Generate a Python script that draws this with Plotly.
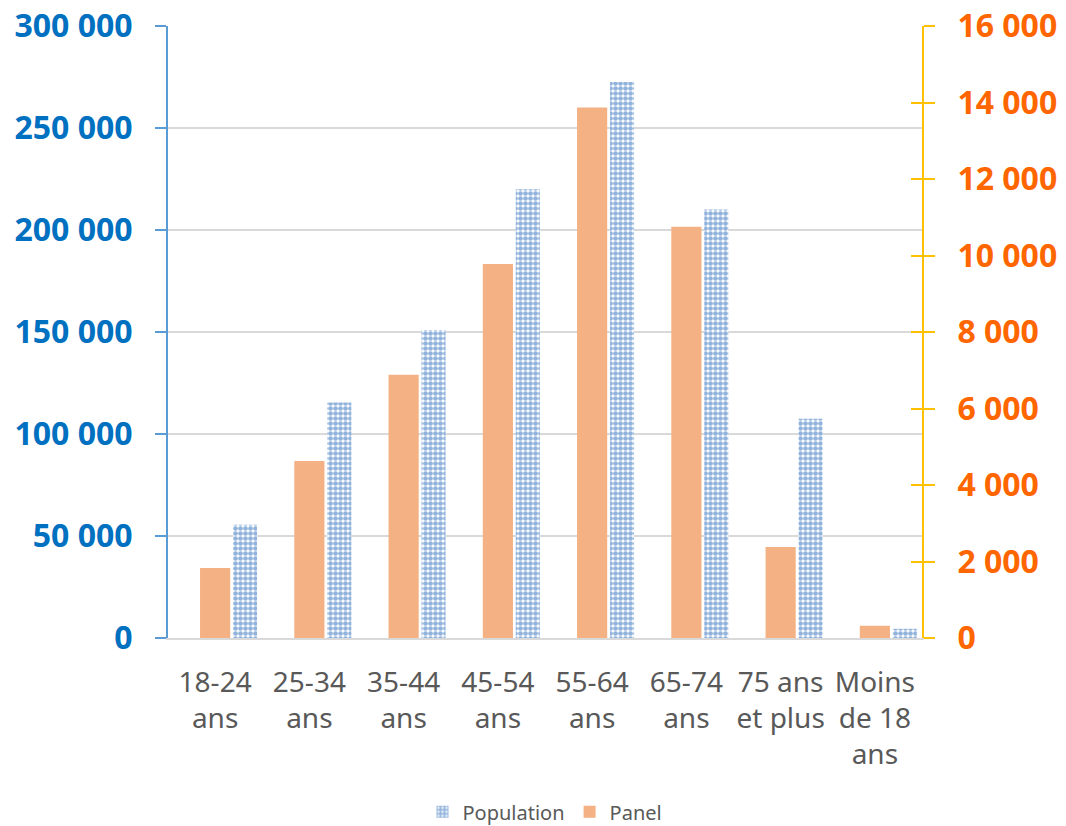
import plotly.graph_objects as go

categories = ["18-24<br>ans", "25-34<br>ans", "35-44<br>ans", "45-54<br>ans",
              "55-64<br>ans", "65-74<br>ans", "75 ans<br>et plus", "Moins<br>de 18<br>ans"]
population = [55500, 115500, 151000, 220000, 272500, 210000, 107500, 4500]
panel = [1830, 4630, 6880, 9780, 13870, 10750, 2380, 320]

left_ticks = [0, 50000, 100000, 150000, 200000, 250000, 300000]
right_ticks = [0, 2000, 4000, 6000, 8000, 10000, 12000, 14000, 16000]

FONT = "Noto Sans"

fig = go.Figure()
fig.add_trace(go.Bar(
    x=categories, y=population, name="Population", yaxis="y",
    width=0.255, offset=0.19,
    marker=dict(color="white", line=dict(width=0),
                pattern=dict(shape=".", fgcolor="#2366B8", bgcolor="white",
                             size=5, solidity=0.7)),
))
fig.add_trace(go.Bar(
    x=categories, y=panel, name="Panel", yaxis="y2",
    width=0.32, offset=-0.16,
    marker=dict(color="#F4B183", line=dict(width=0)),
))

# page body has an 8px margin, so the figure is sized/margined to compensate
fig.update_layout(
    width=1058, height=818,
    margin=dict(l=160, r=144, t=18, b=188, autoexpand=False),
    paper_bgcolor="white", plot_bgcolor="white",
    separators=", ",
    barmode="overlay",
    font=dict(family=FONT, color="#595959"),
    xaxis=dict(
        automargin=False,
        showline=True, linecolor="#D9D9D9", linewidth=2,
        ticks="", tickfont=dict(size=28, color="#595959", family=FONT),
        ticklabelstandoff=18, showgrid=False,
    ),
    yaxis=dict(
        automargin=False, ticklabeloverflow="allow",
        range=[0, 300000], tickvals=left_ticks, tickformat=",d",
        showline=True, linecolor="#5B9BD5", linewidth=2,
        ticks="outside", ticklen=11, tickcolor="#5B9BD5", tickwidth=2,
        tickfont=dict(size=32, color="#0070C0", family=FONT, weight="bold"),
        ticklabelstandoff=16,
        showgrid=True, gridcolor="#D9D9D9", gridwidth=2,
        zeroline=False,
    ),
    yaxis2=dict(
        automargin=False, ticklabeloverflow="allow",
        range=[0, 16000], tickvals=right_ticks, tickformat=",d",
        overlaying="y", side="right", anchor="x",
        showline=True, linecolor="#FFC000", linewidth=2,
        ticks="outside", ticklen=11, tickcolor="#FFC000", tickwidth=2,
        tickfont=dict(size=32, color="#FF6600", family=FONT, weight="bold"),
        ticklabelstandoff=16,
        showgrid=False, zeroline=False,
    ),
    yaxis3=dict(
        automargin=False,
        range=[0, 16000], tickvals=right_ticks,
        overlaying="y", side="right", anchor="x",
        showline=False, showticklabels=False,
        ticks="inside", ticklen=11, tickcolor="#FFC000", tickwidth=2,
        showgrid=False, zeroline=False,
    ),
    legend=dict(
        orientation="h", x=0.5, xanchor="center", y=-0.252, yanchor="top",
        font=dict(size=20, color="#595959", family=FONT),
        traceorder="normal",
    ),
)

# dummy trace to activate yaxis3
fig.add_trace(go.Scatter(x=[categories[0]], y=[None], yaxis="y3",
                         showlegend=False, hoverinfo="skip"))

fig.write_html("out.html")
